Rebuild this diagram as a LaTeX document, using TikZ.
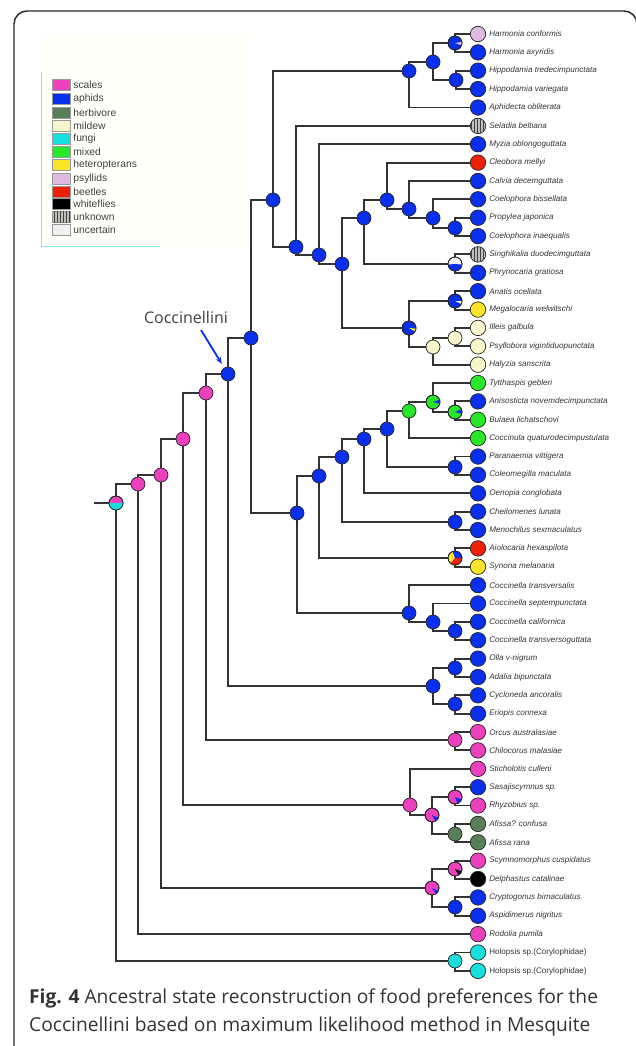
\documentclass[tikz,border=0pt]{standalone}
\usepackage{fontspec}
\setmainfont{Liberation Sans}
\newfontfamily\capfont{Open Sans}
\usetikzlibrary{backgrounds,patterns,arrows.meta}

\definecolor{scalepink}{RGB}{236,64,190}
\definecolor{aphidblue}{RGB}{8,48,236}
\definecolor{herbgreen}{RGB}{88,128,88}
\definecolor{mildewcream}{RGB}{250,246,204}
\definecolor{fungicyan}{RGB}{24,222,222}
\definecolor{mixedgreen}{RGB}{40,230,40}
\definecolor{heteroyellow}{RGB}{252,228,40}
\definecolor{psyllilac}{RGB}{222,186,222}
\definecolor{beetlered}{RGB}{240,32,8}
\definecolor{uncertgray}{RGB}{240,240,240}
\definecolor{legendcyan}{RGB}{130,232,240}

\tikzset{
  branch/.style={line width=1.85pt, draw=black!80},
  tip/.style={circle, draw=black!85, line width=0.7pt, minimum size=15.5pt, inner sep=0pt},
  anc/.style={circle, draw=black!85, line width=0.7pt, minimum size=14pt, inner sep=0pt},
  unknown/.style={tip, fill=black!25, postaction={pattern=vertical lines, pattern color=black!75}},
  taxon/.style={font=\fontsize{8.1}{9}\selectfont\itshape, text=black!80, inner sep=0pt, label distance=3pt},
  swatch/.style={rectangle, draw=black!40, line width=0.4pt, minimum width=18pt, minimum height=11pt, inner sep=0pt},
  legtext/.style={font=\fontsize{10.3}{11}\selectfont, text=black!75, inner sep=0pt, label distance=3pt},
  capline/.style={font=\capfont\fontsize{19.2}{22}\selectfont, text=black!80, inner sep=0pt, anchor=base west}
}

\begin{document}
\begin{tikzpicture}[x=1pt,y=1pt]
\useasboundingbox (0,0) rectangle (636,-1046);

% frame and legend
\fill[yellow!2] (40,-35) rectangle (250,-250);
\draw[line width=1.4pt, black!85, rounded corners=13pt] (14,-1060) -- (14,-11) -- (637,-11) -- (637,-1060);
\draw[legendcyan, line width=1pt] (41,-72) -- (41,-246) -- (160,-246);
\node[swatch, fill=scalepink, label={[legtext]right:scales}] (lscales) at (61,-85) {};
\node[swatch, fill=aphidblue, label={[legtext]right:aphids}] (laphids) at (61,-99) {};
\node[swatch, fill=herbgreen, label={[legtext]right:herbivore}] (lherb) at (61,-113) {};
\node[swatch, fill=mildewcream, label={[legtext]right:mildew}] (lmildew) at (61,-126) {};
\node[swatch, fill=fungicyan, label={[legtext]right:fungi}] (lfungi) at (61,-139) {};
\node[swatch, fill=mixedgreen, label={[legtext]right:mixed}] (lmixed) at (61,-152) {};
\node[swatch, fill=heteroyellow, label={[legtext]right:heteropterans}] (lhetero) at (61,-165) {};
\node[swatch, fill=psyllilac, label={[legtext]right:psyllids}] (lpsyl) at (61,-179) {};
\node[swatch, fill=beetlered, label={[legtext]right:beetles}] (lbeetle) at (61,-192) {};
\node[swatch, fill=black, label={[legtext]right:whiteflies}] (lwhite) at (61,-204) {};
\node[swatch, fill=black!25, postaction={pattern=vertical lines, pattern color=black!75}, label={[legtext]right:unknown}] (lunknown) at (61,-217) {};
\node[swatch, fill=uncertgray, label={[legtext]right:uncertain}] (luncert) at (61,-230) {};

% tips
\node[tip, fill=psyllilac, label={[taxon]right:Harmonia conformis}] (hconf) at (478,-34.0) {};
\node[tip, fill=aphidblue, label={[taxon]right:Harmonia axyridis}] (haxy) at (478,-52.4) {};
\node[tip, fill=aphidblue, label={[taxon]right:Hippodamia tredecimpunctata}] (htred) at (478,-70.7) {};
\node[tip, fill=aphidblue, label={[taxon]right:Hippodamia variegata}] (hvar) at (478,-89.1) {};
\node[tip, fill=aphidblue, label={[taxon]right:Aphidecta obliterata}] (aobl) at (478,-107.5) {};
\node[unknown, label={[taxon]right:Seladia beltiana}] (sbel) at (478,-125.9) {};
\node[tip, fill=aphidblue, label={[taxon]right:Myzia oblongoguttata}] (mobl) at (478,-144.2) {};
\node[tip, fill=beetlered, label={[taxon]right:Cleobora mellyi}] (cmel) at (478,-162.6) {};
\node[tip, fill=aphidblue, label={[taxon]right:Calvia decemguttata}] (cdec) at (478,-181.0) {};
\node[tip, fill=aphidblue, label={[taxon]right:Coelophora bissellata}] (cbis) at (478,-199.3) {};
\node[tip, fill=aphidblue, label={[taxon]right:Propylea japonica}] (pjap) at (478,-217.7) {};
\node[tip, fill=aphidblue, label={[taxon]right:Coelophora inaequalis}] (cina) at (478,-236.1) {};
\node[unknown, label={[taxon]right:Singhikalia duodecimguttata}] (sduo) at (478,-254.4) {};
\node[tip, fill=aphidblue, label={[taxon]right:Phrynocaria gratiosa}] (pgra) at (478,-272.8) {};
\node[tip, fill=aphidblue, label={[taxon]right:Anatis ocellata}] (aoce) at (478,-291.2) {};
\node[tip, fill=heteroyellow, label={[taxon]right:Megalocaria welwitschi}] (mwel) at (478,-309.6) {};
\node[tip, fill=mildewcream, label={[taxon]right:Illeis galbula}] (igal) at (478,-327.9) {};
\node[tip, fill=mildewcream, label={[taxon]right:Psyllobora vigintiduopunctata}] (pvig) at (478,-346.3) {};
\node[tip, fill=mildewcream, label={[taxon]right:Halyzia sanscrita}] (hsan) at (478,-364.7) {};
\node[tip, fill=mixedgreen, label={[taxon]right:Tytthaspis gebleri}] (tgeb) at (478,-383.0) {};
\node[tip, fill=aphidblue, label={[taxon]right:Anisosticta novemdecimpunctata}] (anov) at (478,-401.4) {};
\node[tip, fill=mixedgreen, label={[taxon]right:Bulaea lichatschovi}] (blic) at (478,-419.8) {};
\node[tip, fill=mixedgreen, label={[taxon]right:Coccinula quaturodecimpustulata}] (cqua) at (478,-438.1) {};
\node[tip, fill=aphidblue, label={[taxon]right:Paranaemia vittigera}] (pvit) at (478,-456.5) {};
\node[tip, fill=aphidblue, label={[taxon]right:Coleomegilla maculata}] (cmac) at (478,-474.9) {};
\node[tip, fill=aphidblue, label={[taxon]right:Oenopia conglobata}] (ocon) at (478,-493.3) {};
\node[tip, fill=aphidblue, label={[taxon]right:Cheilomenes lunata}] (clun) at (478,-511.6) {};
\node[tip, fill=aphidblue, label={[taxon]right:Menochilus sexmaculatus}] (msex) at (478,-530.0) {};
\node[tip, fill=beetlered, label={[taxon]right:Aiolocaria hexaspilota}] (ahex) at (478,-548.4) {};
\node[tip, fill=heteroyellow, label={[taxon]right:Synona melanaria}] (smel) at (478,-566.7) {};
\node[tip, fill=aphidblue, label={[taxon]right:Coccinella transversalis}] (ctra) at (478,-585.1) {};
\node[tip, fill=aphidblue, label={[taxon]right:Coccinella septempunctata}] (csep) at (478,-603.5) {};
\node[tip, fill=aphidblue, label={[taxon]right:Coccinella californica}] (ccal) at (478,-621.8) {};
\node[tip, fill=aphidblue, label={[taxon]right:Coccinella transversoguttata}] (ctrg) at (478,-640.2) {};
\node[tip, fill=aphidblue, label={[taxon]right:Olla v-nigrum}] (ovn) at (478,-658.6) {};
\node[tip, fill=aphidblue, label={[taxon]right:Adalia bipunctata}] (abip) at (478,-677.0) {};
\node[tip, fill=aphidblue, label={[taxon]right:Cycloneda ancoralis}] (canc) at (478,-695.3) {};
\node[tip, fill=aphidblue, label={[taxon]right:Eriopis connexa}] (econ) at (478,-713.7) {};
\node[tip, fill=scalepink, label={[taxon]right:Orcus australasiae}] (oaus) at (478,-732.1) {};
\node[tip, fill=scalepink, label={[taxon]right:Chilocorus malasiae}] (cmal) at (478,-750.4) {};
\node[tip, fill=scalepink, label={[taxon]right:Sticholotis culleni}] (scul) at (478,-768.8) {};
\node[tip, fill=aphidblue, label={[taxon]right:Sasajiscymnus sp.}] (sasa) at (478,-787.2) {};
\node[tip, fill=scalepink, label={[taxon]right:Rhyzobius sp.}] (rhyz) at (478,-805.5) {};
\node[tip, fill=herbgreen, label={[taxon]right:Afissa? confusa}] (acon) at (478,-823.9) {};
\node[tip, fill=herbgreen, label={[taxon]right:Afissa rana}] (aran) at (478,-842.3) {};
\node[tip, fill=scalepink, label={[taxon]right:Scymnomorphus cuspidatus}] (scus) at (478,-860.7) {};
\node[tip, fill=black, label={[taxon]right:Delphastus catalinae}] (dcat) at (478,-879.0) {};
\node[tip, fill=aphidblue, label={[taxon]right:Cryptogonus bimaculatus}] (cbim) at (478,-897.4) {};
\node[tip, fill=aphidblue, label={[taxon]right:Aspidimerus nigritus}] (anig) at (478,-915.8) {};
\node[tip, fill=scalepink, label={[taxon]right:Rodolia pumila}] (rpum) at (478,-934.1) {};
\node[tip, fill=fungicyan, label={[taxon]right:{\upshape Holopsis sp.(Corylophidae)}}] (hol1) at (478,-952.5) {};
\node[tip, fill=fungicyan, label={[taxon]right:{\upshape Holopsis sp.(Corylophidae)}}] (hol2) at (478,-970.9) {};

% ancestral states
\node[anc, fill=scalepink] (root) at (116,-503) {};
\node[anc, fill=scalepink] (sc1) at (138,-484) {};
\node[anc, fill=scalepink] (sc2) at (161,-475) {};
\node[anc, fill=scalepink] (sc3) at (183,-439) {};
\node[anc, fill=scalepink] (sc4) at (206,-393) {};
\node[anc, fill=aphidblue] (cocc) at (228,-374) {};
\node[anc, fill=aphidblue] (top) at (251,-338) {};
\node[anc, fill=aphidblue] (upper) at (273,-200) {};
\node[anc, fill=aphidblue] (harmcl) at (409,-71) {};
\node[anc, fill=aphidblue] (harmhip) at (433,-62) {};
\node[anc, fill=aphidblue] (harm) at (455,-43) {};
\node[anc, fill=aphidblue] (hipp) at (456,-80) {};
\node[anc, fill=aphidblue] (up1) at (296,-247) {};
\node[anc, fill=aphidblue] (up2) at (319,-255) {};
\node[anc, fill=aphidblue] (up3) at (342,-264) {};
\node[anc, fill=aphidblue] (up4) at (364,-218) {};
\node[anc, fill=aphidblue] (up5) at (387,-200) {};
\node[anc, fill=aphidblue] (up6) at (409,-209) {};
\node[anc, fill=aphidblue] (up7) at (433,-218) {};
\node[anc, fill=aphidblue] (prop) at (455,-228) {};
\node[anc, fill=uncertgray] (singh) at (455,-264) {};
\node[anc, fill=aphidblue] (mid1) at (409,-328) {};
\node[anc, fill=aphidblue] (anat) at (455,-301) {};
\node[anc, fill=mildewcream] (myc1) at (433,-347) {};
\node[anc, fill=mildewcream] (myc2) at (455,-338) {};
\node[anc, fill=aphidblue] (low) at (297,-513) {};
\node[anc, fill=aphidblue] (low1) at (319,-476) {};
\node[anc, fill=aphidblue] (low2) at (342,-457) {};
\node[anc, fill=aphidblue] (low3) at (364,-439) {};
\node[anc, fill=aphidblue] (low4) at (387,-429) {};
\node[anc, fill=mixedgreen] (mix1) at (409,-411) {};
\node[anc, fill=mixedgreen] (mix2) at (433,-402) {};
\node[anc, fill=mixedgreen] (mix3) at (455,-412) {};
\node[anc, fill=aphidblue] (para) at (455,-467) {};
\node[anc, fill=aphidblue] (chei) at (455,-522) {};
\node[anc, fill=heteroyellow] (aiol) at (455,-558) {};
\node[anc, fill=aphidblue] (cocl1) at (409,-613) {};
\node[anc, fill=aphidblue] (cocl2) at (433,-622) {};
\node[anc, fill=aphidblue] (cocl3) at (455,-631) {};
\node[anc, fill=aphidblue] (olla) at (433,-686) {};
\node[anc, fill=aphidblue] (olla1) at (455,-668) {};
\node[anc, fill=aphidblue] (olla2) at (455,-704) {};
\node[anc, fill=scalepink] (chil) at (455,-740) {};
\node[anc, fill=scalepink] (stic) at (410,-805) {};
\node[anc, fill=scalepink] (stic1) at (432,-815) {};
\node[anc, fill=scalepink] (rhyzcl) at (455,-797) {};
\node[anc, fill=herbgreen] (afis) at (455,-834) {};
\node[anc, fill=scalepink] (scym) at (432,-888) {};
\node[anc, fill=scalepink] (delph) at (455,-869) {};
\node[anc, fill=aphidblue] (cryp) at (455,-907) {};
\node[anc, fill=fungicyan] (holo) at (455,-961) {};

% pie slices
\fill[fungicyan] (root.center) -- ++(180:7) arc (180:360:7) -- cycle;
\fill[aphidblue] (singh.center) -- ++(185:7) arc (185:355:7) -- cycle;
\fill[psyllilac] (harm.center) -- ++(-20:7) arc (-20:10:7) -- cycle;
\fill[heteroyellow] (mid1.center) -- ++(-30:7) arc (-30:-5:7) -- cycle;
\fill[mildewcream] (anat.center) -- ++(-25:7) arc (-25:0:7) -- cycle;
\fill[aphidblue] (mix2.center) -- ++(-15:7) arc (-15:20:7) -- cycle;
\fill[aphidblue] (mix3.center) -- ++(-15:7) arc (-15:25:7) -- cycle;
\fill[aphidblue] (aiol.center) -- ++(0:7) arc (0:110:7) -- cycle;
\fill[beetlered] (aiol.center) -- ++(230:7) arc (230:360:7) -- cycle;
\fill[aphidblue] (stic1.center) -- ++(-60:7) arc (-60:-25:7) -- cycle;
\fill[aphidblue] (rhyzcl.center) -- ++(-70:7) arc (-70:-20:7) -- cycle;
\fill[aphidblue] (scym.center) -- ++(-55:7) arc (-55:-25:7) -- cycle;
\fill[black] (delph.center) -- ++(-60:7) arc (-60:-20:7) -- cycle;
\foreach \n in {root,singh,harm,mid1,anat,mix2,mix3,aiol,stic1,rhyzcl,scym,delph}
  \draw[black!85, line width=0.7pt] (\n.center) circle (7);

% Coccinellini
\node[font=\capfont\fontsize{16}{18}\selectfont, text=black!75] (cocclab) at (186,-317) {Coccinellini};
\coordinate (cocctail) at (201,-330);
\draw[-{Stealth[length=7pt,width=5.5pt]}, line width=1.8pt, aphidblue, shorten >=4.5pt] (cocctail) -- (cocc);

% branches
\begin{scope}[on background layer]
\coordinate (stub) at (94,-503);
\draw[branch] (stub) -- (root.center);
\draw[branch] (root.center) |- (sc1.center) (root.center) |- (holo.center);
\draw[branch] (sc1.center) |- (sc2.center) (sc1.center) |- (rpum.center);
\draw[branch] (sc2.center) |- (sc3.center) (sc2.center) |- (scym.center);
\draw[branch] (sc3.center) |- (sc4.center) (sc3.center) |- (stic.center);
\draw[branch] (sc4.center) |- (cocc.center) (sc4.center) |- (chil.center);
\draw[branch] (cocc.center) |- (top.center) (cocc.center) |- (olla.center);
\draw[branch] (top.center) |- (upper.center) (top.center) |- (low.center);
\draw[branch] (upper.center) |- (harmcl.center) (upper.center) |- (up1.center);
\draw[branch] (harmcl.center) |- (harmhip.center) (harmcl.center) |- (aobl.center);
\draw[branch] (harmhip.center) |- (harm.center) (harmhip.center) |- (hipp.center);
\draw[branch] (harm.center) |- (hconf.center) (harm.center) |- (haxy.center);
\draw[branch] (hipp.center) |- (htred.center) (hipp.center) |- (hvar.center);
\draw[branch] (up1.center) |- (sbel.center) (up1.center) |- (up2.center);
\draw[branch] (up2.center) |- (mobl.center) (up2.center) |- (up3.center);
\draw[branch] (up3.center) |- (up4.center) (up3.center) |- (mid1.center);
\draw[branch] (up4.center) |- (up5.center) (up4.center) |- (singh.center);
\draw[branch] (up5.center) |- (cmel.center) (up5.center) |- (up6.center);
\draw[branch] (up6.center) |- (cdec.center) (up6.center) |- (up7.center);
\draw[branch] (up7.center) |- (cbis.center) (up7.center) |- (prop.center);
\draw[branch] (prop.center) |- (pjap.center) (prop.center) |- (cina.center);
\draw[branch] (singh.center) |- (sduo.center) (singh.center) |- (pgra.center);
\draw[branch] (mid1.center) |- (anat.center) (mid1.center) |- (myc1.center);
\draw[branch] (anat.center) |- (aoce.center) (anat.center) |- (mwel.center);
\draw[branch] (myc1.center) |- (myc2.center) (myc1.center) |- (hsan.center);
\draw[branch] (myc2.center) |- (igal.center) (myc2.center) |- (pvig.center);
\draw[branch] (low.center) |- (low1.center) (low.center) |- (cocl1.center);
\draw[branch] (low1.center) |- (low2.center) (low1.center) |- (aiol.center);
\draw[branch] (low2.center) |- (low3.center) (low2.center) |- (chei.center);
\draw[branch] (low3.center) |- (low4.center) (low3.center) |- (ocon.center);
\draw[branch] (low4.center) |- (mix1.center) (low4.center) |- (para.center);
\draw[branch] (mix1.center) |- (mix2.center) (mix1.center) |- (cqua.center);
\draw[branch] (mix2.center) |- (tgeb.center) (mix2.center) |- (mix3.center);
\draw[branch] (mix3.center) |- (anov.center) (mix3.center) |- (blic.center);
\draw[branch] (para.center) |- (pvit.center) (para.center) |- (cmac.center);
\draw[branch] (chei.center) |- (clun.center) (chei.center) |- (msex.center);
\draw[branch] (aiol.center) |- (ahex.center) (aiol.center) |- (smel.center);
\draw[branch] (cocl1.center) |- (ctra.center) (cocl1.center) |- (cocl2.center);
\draw[branch] (cocl2.center) |- (csep.center) (cocl2.center) |- (cocl3.center);
\draw[branch] (cocl3.center) |- (ccal.center) (cocl3.center) |- (ctrg.center);
\draw[branch] (olla.center) |- (olla1.center) (olla.center) |- (olla2.center);
\draw[branch] (olla1.center) |- (ovn.center) (olla1.center) |- (abip.center);
\draw[branch] (olla2.center) |- (canc.center) (olla2.center) |- (econ.center);
\draw[branch] (chil.center) |- (oaus.center) (chil.center) |- (cmal.center);
\draw[branch] (stic.center) |- (scul.center) (stic.center) |- (stic1.center);
\draw[branch] (stic1.center) |- (rhyzcl.center) (stic1.center) |- (afis.center);
\draw[branch] (rhyzcl.center) |- (sasa.center) (rhyzcl.center) |- (rhyz.center);
\draw[branch] (afis.center) |- (acon.center) (afis.center) |- (aran.center);
\draw[branch] (scym.center) |- (delph.center) (scym.center) |- (cryp.center);
\draw[branch] (delph.center) |- (scus.center) (delph.center) |- (dcat.center);
\draw[branch] (cryp.center) |- (cbim.center) (cryp.center) |- (anig.center);
\draw[branch] (holo.center) |- (hol1.center) (holo.center) |- (hol2.center);
\end{scope}

% caption
\node[capline] (cap1) at (29,-1003) {\textbf{Fig. 4} Ancestral state reconstruction of food preferences for the};
\node[capline] (cap2) at (29,-1031) {Coccinellini based on maximum likelihood method in Mesquite};
\end{tikzpicture}
\end{document}
